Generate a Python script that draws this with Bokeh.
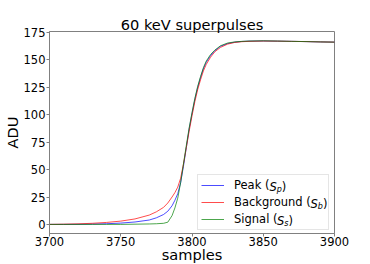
from bokeh.plotting import figure
from bokeh.models import Legend, LegendItem, Label, FixedTicker, Range1d
from bokeh.embed import file_html
from bokeh.resources import INLINE

# ---- data ----
samples = [3700, 3710, 3720, 3730, 3740, 3750, 3760, 3770, 3775, 3780, 3783, 3786,
           3788, 3790, 3792, 3794, 3796, 3798, 3800, 3802, 3804, 3806, 3808, 3810,
           3813, 3816, 3820, 3825, 3830, 3835, 3840, 3850, 3860, 3870, 3880, 3890, 3900]
peak = [0, 0, 0.1, 0.3, 0.6, 1.2, 2.2, 4, 6, 9, 12, 17,
        22, 28, 38, 53, 70, 87, 101, 114, 125, 134, 142, 148,
        154, 158.5, 162.5, 165, 166.3, 166.9, 167.2, 167.4, 167.2, 167, 166.8, 166.5, 166.3]
background = [0, 0.2, 0.5, 1, 1.8, 3, 5, 8.5, 11.5, 15.5, 19.5, 25,
              29, 34, 42, 55, 70, 85, 99, 112, 123, 132, 140, 146,
              152.5, 157.5, 161.5, 164.5, 166, 166.7, 167, 167.3, 167.2, 167, 166.8, 166.5, 166.3]
signal = [0, 0, 0, 0, 0, 0, 0.2, 0.4, 0.6, 1, 2, 8,
          15, 24, 38, 55, 72, 88, 102, 115, 126, 135, 143, 149,
          155, 159, 163, 165.5, 166.5, 167, 167.3, 167.5, 167.3, 167, 166.8, 166.5, 166.3]

x_ticks = [3700, 3750, 3800, 3850, 3900]
y_ticks = [0, 25, 50, 75, 100, 125, 150, 175]
legend_names = ["Peak (", "Background (", "Signal ("]
legend_subs = ["p", "b", "s"]

FONT = "DejaVu Sans"
TICK_FS = "11.5px"
LABEL_FS = "14.6px"
SPINE = "#808080"
FW, FH = 285, 202

p = figure(frame_width=FW, frame_height=FH,
           x_range=Range1d(3700, 3900), y_range=Range1d(-8.3, 176),
           output_backend="svg", toolbar_location=None,
           title="60 keV superpulses",
           min_border_left=0, min_border_top=31, min_border_bottom=0, min_border_right=20)

p.title.align = "center"
p.title.text_font = FONT
p.title.text_font_size = LABEL_FS
p.title.text_font_style = "normal"
p.title.text_color = "black"
p.title.standoff = -3

p.xgrid.visible = False
p.ygrid.visible = False
p.outline_line_color = SPINE
p.outline_line_width = 1
p.background_fill_color = "white"
p.border_fill_color = "white"

for ax in (p.xaxis[0], p.yaxis[0]):
    ax.axis_line_color = SPINE
    ax.major_tick_line_color = SPINE
    ax.major_tick_in = 0
    ax.major_tick_out = 3
    ax.minor_tick_line_color = None
    ax.major_label_text_font = FONT
    ax.major_label_text_font_size = TICK_FS
    ax.major_label_text_color = "black"
    ax.major_label_standoff = 1
    ax.axis_label_text_font = FONT
    ax.axis_label_text_font_size = LABEL_FS
    ax.axis_label_text_font_style = "normal"
    ax.axis_label_text_color = "black"
    ax.axis_label_standoff = 0
p.xaxis.major_label_standoff = 0
p.xaxis.axis_label_standoff = -3

p.xaxis.ticker = FixedTicker(ticks=x_ticks)
p.yaxis.ticker = FixedTicker(ticks=y_ticks)
p.xaxis.axis_label = "samples"
p.yaxis.axis_label = "ADU"

r1 = p.line(samples, peak, line_color="blue", line_alpha=0.7, line_width=1)
r2 = p.line(samples, background, line_color="red", line_alpha=0.7, line_width=1)
r3 = p.line(samples, signal, line_color="green", line_alpha=0.7, line_width=1)

# legend box geometry (pixels, relative to the frame)
BOX_W, BOX_RIGHT_GAP, BOX_BOTTOM_GAP = 130, 7, 3
PAD, GW, STAND, ROWH, SPACING = 3, 23, 10, 14, 3
LW = BOX_W - 2 * PAD - GW - STAND
box_left = FW - BOX_RIGHT_GAP - BOX_W
legend = Legend(items=[LegendItem(label=legend_names[0], renderers=[r1]),
                       LegendItem(label=legend_names[1], renderers=[r2]),
                       LegendItem(label=legend_names[2], renderers=[r3])],
                location=(box_left, BOX_BOTTOM_GAP), margin=0, padding=PAD, spacing=SPACING,
                glyph_width=GW, glyph_height=ROWH, label_height=ROWH, label_width=LW,
                label_standoff=STAND, label_text_font=FONT, label_text_font_size=TICK_FS,
                label_text_color="black",
                border_line_color="#cccccc", border_line_width=1,
                background_fill_color=None)
p.add_layout(legend)

# math parts of the legend labels: italic S with a subscript, then ")"
first_w = [35.9, 77.0, 43.5]
sub_w = [5.1, 5.1, 4.2]
text_x0 = box_left + PAD + GW + STAND
for i in range(3):
    yc = BOX_BOTTOM_GAP + PAD + ROWH / 2 + (2 - i) * (ROWH + SPACING)
    xs = text_x0 + first_w[i]
    p.add_layout(Label(x=xs, y=yc, x_units="screen", y_units="screen", text="S",
                       text_font=FONT, text_font_style="italic", text_font_size=TICK_FS,
                       text_color="black", text_baseline="middle"))
    p.add_layout(Label(x=xs + 7.3, y=yc - 3, x_units="screen", y_units="screen",
                       text=legend_subs[i], text_font=FONT, text_font_style="italic",
                       text_font_size="8px", text_color="black", text_baseline="middle"))
    p.add_layout(Label(x=xs + 7.3 + sub_w[i], y=yc, x_units="screen", y_units="screen",
                       text=")", text_font=FONT, text_font_size=TICK_FS,
                       text_color="black", text_baseline="middle"))

open("out.html", "w").write(file_html(p, INLINE))
